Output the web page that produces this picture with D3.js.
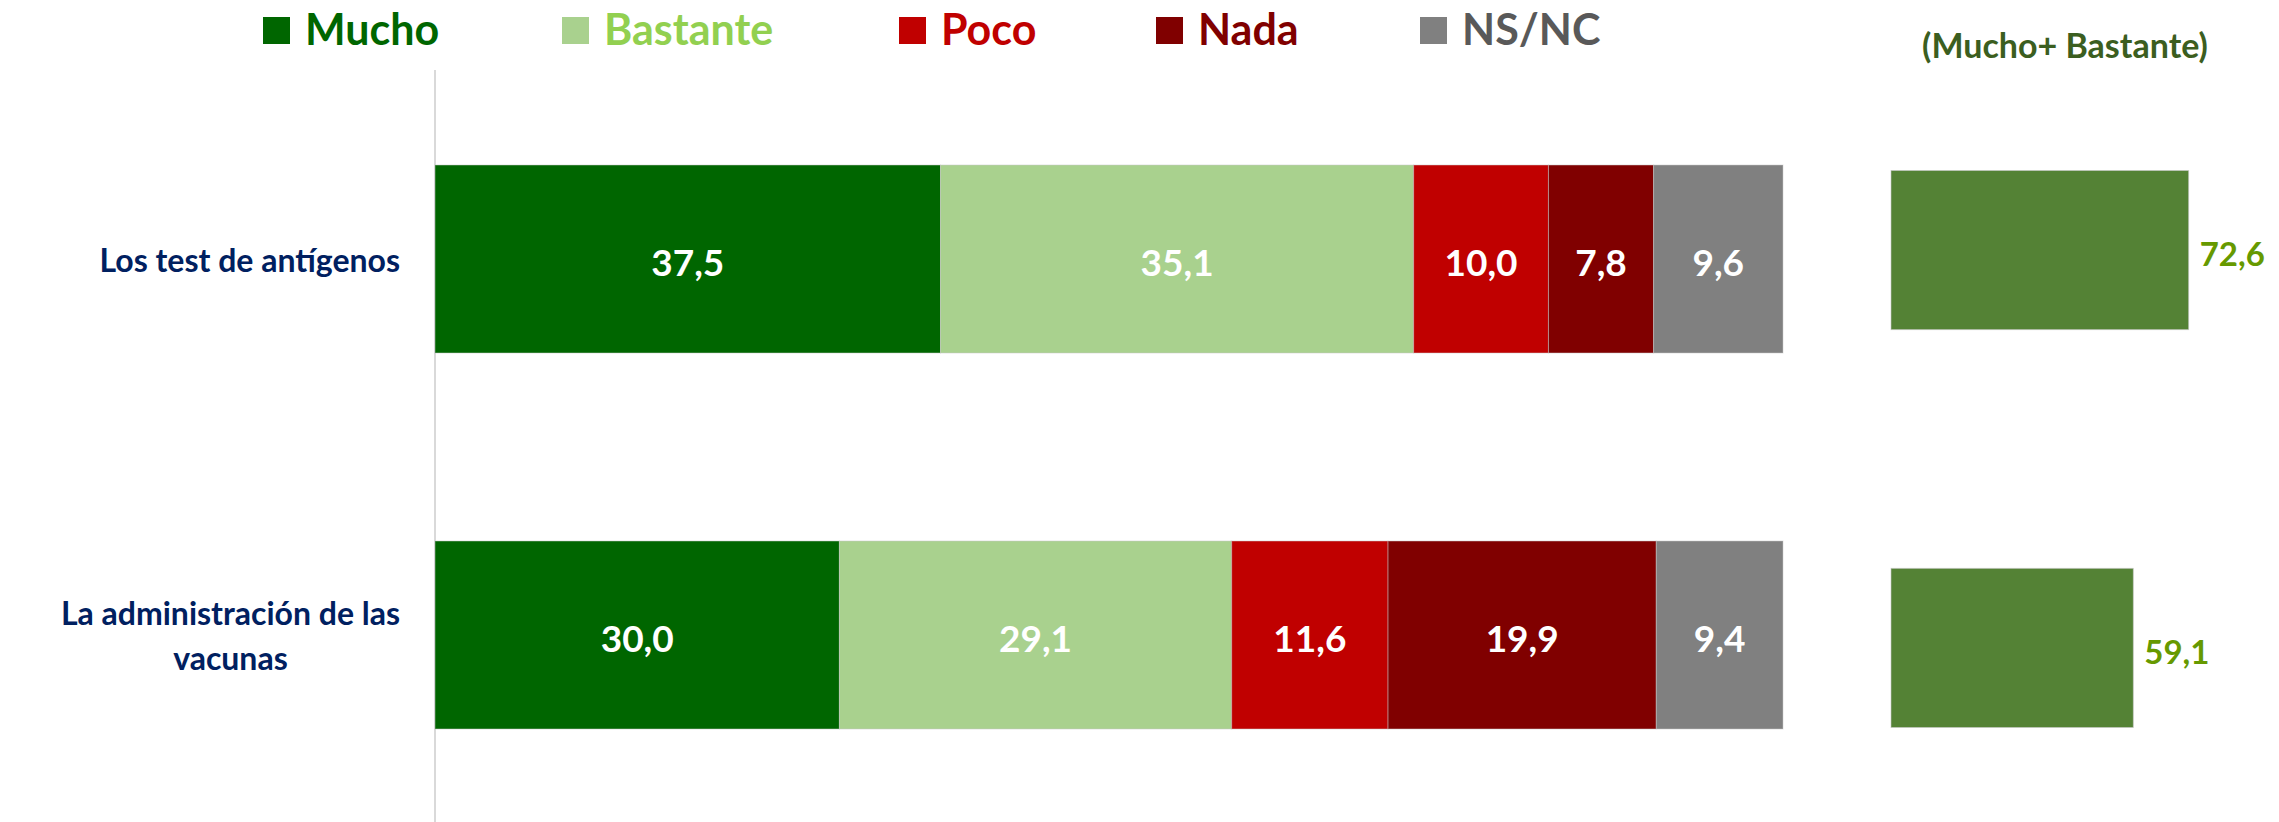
<!DOCTYPE html>
<html>
<head>
<meta charset="utf-8">
<script src="https://cdn.jsdelivr.net/npm/d3@7"></script>
<style>
  body { margin: 0; background: #fff; }
  text { font-family: Lato, "Open Sans", sans-serif; font-weight: bold; }
</style>
</head>
<body>
<div id="chart"></div>
<script>
// categories, one stacked bar each
const categories = ["Los test de antígenos", "La administración de las vacunas"];

// series (percent) per category
const seriesNames = ["Mucho", "Bastante", "Poco", "Nada", "NS/NC"];
const mucho    = [37.5, 30.0];
const bastante = [35.1, 29.1];
const poco     = [10.0, 11.6];
const nada     = [7.8, 19.9];
const nsnc     = [9.6, 9.4];

// Mucho + Bastante totals shown on the right
const totalTitle = "(Mucho+ Bastante)";
const totals = [72.6, 59.1];

const fillColors = ["#006600", "#A9D18E", "#C00000", "#800000", "#808080"];
const legendText = ["#006600", "#92D050", "#C00000", "#800000", "#595959"];

const width = 2279;
const height = 822;

const fmt = v => v.toFixed(1).replace(".", ",");

let svg = d3.select("#chart").append("svg")
    .attr("width", width)
    .attr("height", height);

// build rows for the stack
let rows = categories.map((c, i) => ({
    cat: c,
    Mucho: mucho[i], Bastante: bastante[i], Poco: poco[i], Nada: nada[i], "NS/NC": nsnc[i]
}));
let stacked = d3.stack().keys(seriesNames)(rows);

// scales for the main stacked chart
let x = d3.scaleLinear().domain([0, 100]).range([435, 1783]);
let y = d3.scaleBand().domain(categories).range([165, 729]).paddingInner(0.5);

// scales for the totals on the right
let x2 = d3.scaleLinear().domain([0, 100]).range([1891, 2301]);
let y2 = d3.scaleBand().domain(categories).range([170.5, 727.5]).paddingInner(0.6);

// vertical axis line
svg.append("line")
    .attr("x1", x(0)).attr("x2", x(0))
    .attr("y1", 70).attr("y2", height)
    .attr("stroke", "#d9d9d9")
    .attr("stroke-width", 2);

// stacked segments
let layers = svg.selectAll("g.layer")
    .data(stacked)
    .enter().append("g")
    .attr("class", "layer")
    .attr("fill", (d, i) => fillColors[i]);

layers.selectAll("rect")
    .data(d => d)
    .enter().append("rect")
    .attr("x", d => x(d[0]))
    .attr("y", d => y(d.data.cat))
    .attr("width", d => x(d[1]) - x(d[0]))
    .attr("height", y.bandwidth())
    .attr("stroke", "rgba(200,200,200,0.5)")
    .attr("stroke-width", 1);

layers.selectAll("text")
    .data(d => d)
    .enter().append("text")
    .attr("x", d => (x(d[0]) + x(d[1])) / 2)
    .attr("y", d => y(d.data.cat) + y.bandwidth() / 2 + 2)
    .attr("text-anchor", "middle")
    .attr("dominant-baseline", "central")
    .attr("fill", "#fff")
    .attr("font-size", 37)
    .text(d => fmt(d[1] - d[0]));

// category labels, wrapped and centred inside a box right-aligned to 400
let labelG = svg.append("g");
categories.forEach(cat => {
    let words = cat.split(" ");
    let lines = [];
    let line = [];
    let probe = labelG.append("text").attr("font-size", 32);
    words.forEach(w => {
        line.push(w);
        probe.text(line.join(" "));
        if (probe.node().getComputedTextLength() > 392 && line.length > 1) {
            line.pop();
            lines.push(line.join(" "));
            line = [w];
        }
    });
    lines.push(line.join(" "));
    let maxW = d3.max(lines, l => probe.text(l).node().getComputedTextLength());
    probe.remove();

    let lineH = 45;
    let cy = y(cat) + y.bandwidth() / 2;
    let t = labelG.append("text")
        .attr("font-size", 32)
        .attr("fill", "#002060")
        .attr("text-anchor", "middle");
    lines.forEach((l, i) => {
        t.append("tspan")
            .attr("x", 400 - maxW / 2)
            .attr("y", cy + (i - (lines.length - 1) / 2) * lineH)
            .attr("dominant-baseline", "central")
            .text(l);
    });
});

// totals bars
svg.selectAll("rect.total")
    .data(totals)
    .enter().append("rect")
    .attr("class", "total")
    .attr("x", x2(0))
    .attr("y", (d, i) => y2(categories[i]))
    .attr("width", d => x2(d) - x2(0))
    .attr("height", y2.bandwidth())
    .attr("fill", "#548235")
    .attr("stroke", "rgba(200,200,200,0.6)")
    .attr("stroke-width", 1);

svg.selectAll("text.total")
    .data(totals)
    .enter().append("text")
    .attr("class", "total")
    .attr("x", d => x2(d) + 11)
    .attr("y", (d, i) => y2(categories[i]) + y2.bandwidth() / 2 + 3)
    .attr("dominant-baseline", "central")
    .attr("fill", "#669900")
    .attr("font-size", 33)
    .text(d => fmt(d));

svg.append("text")
    .attr("x", 2065)
    .attr("y", 58)
    .attr("text-anchor", "middle")
    .attr("fill", "#3B5E20")
    .attr("font-size", 34)
    .text(totalTitle);

// legend
let legendX = [263, 562, 899, 1156, 1420];
let legend = svg.selectAll("g.legend")
    .data(seriesNames)
    .enter().append("g")
    .attr("class", "legend")
    .attr("transform", (d, i) => `translate(${legendX[i]}, 17)`);

legend.append("rect")
    .attr("width", 27)
    .attr("height", 27)
    .attr("fill", (d, i) => fillColors[i]);

legend.append("text")
    .attr("x", 42)
    .attr("y", 28)
    .attr("font-size", 43)
    .attr("fill", (d, i) => legendText[i])
    .text(d => d);
</script>
</body>
</html>
